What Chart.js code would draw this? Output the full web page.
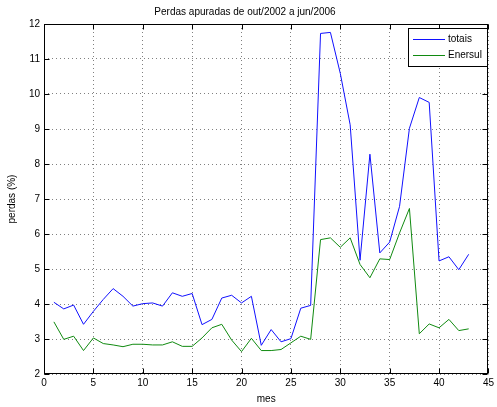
<!DOCTYPE html>
<html>
<head>
<meta charset="utf-8">
<script src="https://cdn.jsdelivr.net/npm/chart.js@4.4.1/dist/chart.umd.min.js"></script>
<style>
  html, body { margin:0; padding:0; background:#fff; }
  canvas { display:block; }
</style>
</head>
<body>
<canvas id="perdasChart" width="497" height="407"></canvas>
<script>
// months since out/2002
const meses = [1,2,3,4,5,6,7,8,9,10,11,12,13,14,15,16,17,18,19,20,21,22,23,24,25,26,27,28,29,30,31,32,33,34,35,36,37,38,39,40,41,42,43];
const totais = [4.05,3.86,3.97,3.42,3.79,4.13,4.44,4.22,3.94,4.01,4.03,3.94,4.32,4.22,4.30,3.41,3.56,4.17,4.25,4.03,4.22,2.82,3.27,2.92,3.01,3.88,3.96,11.73,11.76,10.59,9.12,5.25,8.28,5.46,5.77,6.79,9.02,9.90,9.76,5.23,5.35,4.98,5.42];
const enersul = [3.49,2.99,3.08,2.67,3.03,2.87,2.83,2.78,2.85,2.85,2.83,2.83,2.92,2.79,2.79,3.03,3.32,3.42,2.97,2.64,3.02,2.67,2.67,2.70,2.89,3.08,2.99,5.84,5.89,5.62,5.89,5.13,4.75,5.29,5.27,6.03,6.73,3.15,3.43,3.32,3.56,3.24,3.29];
const seriesNames = ['totais', 'Enersul'];
const xTicks = [0,5,10,15,20,25,30,35,40,45];
const yTicks = [2,3,4,5,6,7,8,9,10,11,12];

const FONT = 'Liberation Sans, Arial, Helvetica, sans-serif';
const COLORS = ['#1010ff', '#108a10'];

// matlab-like box, inward ticks and boxed legend
const axesBox = {
  id: 'axesBox',
  afterDraw(chart){
    const {ctx, chartArea:a, scales:{x, y}} = chart;
    const L = Math.round(a.left)+0.5, R = Math.round(a.right)-0.5;
    const T = Math.round(a.top)+0.5, B = Math.round(a.bottom)-0.5;
    ctx.save();
    ctx.setLineDash([]);
    ctx.strokeStyle = '#000'; ctx.lineWidth = 1;
    ctx.strokeRect(L, T, R-L, B-T);
    ctx.beginPath();
    xTicks.forEach(v=>{
      const px = Math.round(x.getPixelForValue(v))+0.5;
      ctx.moveTo(px, B); ctx.lineTo(px, B-5);
      ctx.moveTo(px, T); ctx.lineTo(px, T+5);
    });
    yTicks.forEach(v=>{
      const py = Math.round(y.getPixelForValue(v))+0.5;
      ctx.moveTo(L, py); ctx.lineTo(L+5, py);
      ctx.moveTo(R, py); ctx.lineTo(R-5, py);
    });
    ctx.stroke();

    // legend
    const bx = 408.5, by = 28.5, bw = 79, bh = 38;
    ctx.fillStyle = '#fff';
    ctx.fillRect(bx, by, bw, bh);
    ctx.strokeStyle = '#000';
    ctx.strokeRect(bx, by, bw, bh);
    ctx.font = '10px ' + FONT;
    ctx.textBaseline = 'middle';
    ctx.textAlign = 'left';
    seriesNames.forEach((name, i)=>{
      const ly = Math.round(by + 10 + i*16) + 0.5;
      ctx.beginPath();
      ctx.strokeStyle = COLORS[i];
      ctx.moveTo(413, ly); ctx.lineTo(445, ly);
      ctx.stroke();
      ctx.fillStyle = '#000';
      ctx.fillText(name, 448, ly);
    });
    ctx.restore();
  }
};

window.addEventListener('DOMContentLoaded', ()=>{
  const ctx = document.getElementById('perdasChart');
  new Chart(ctx, {
    type: 'line',
    data: {
      datasets: [
        { label:seriesNames[0], data: meses.map((m,i)=>({x:m, y:totais[i]})),
          borderColor:COLORS[0], borderWidth:1, pointRadius:0, tension:0, fill:false },
        { label:seriesNames[1], data: meses.map((m,i)=>({x:m, y:enersul[i]})),
          borderColor:COLORS[1], borderWidth:1, pointRadius:0, tension:0, fill:false }
      ]
    },
    options: {
      responsive:false,
      animation:false,
      layout:{ padding:{ left:0, right:7, top:0, bottom:0 } },
      plugins:{
        legend:{ display:false },
        tooltip:{ enabled:false },
        title:{ display:true, text:'Perdas apuradas de out/2002 a jun/2006', color:'#000',
          font:{ family:FONT, size:10, weight:'normal' }, padding:{ top:6, bottom:6 } }
      },
      scales:{
        x:{
          type:'linear', min:0, max:45,
          afterBuildTicks: s=>{ s.ticks = xTicks.map(v=>({value:v})); },
          afterFit: s=>{ s.height = 33; },
          grid:{ drawTicks:false, color:'#808080' },
          border:{ display:false, dash:[1,3] },
          ticks:{ padding:3, color:'#000', maxRotation:0, font:{ family:FONT, size:10 } },
          title:{ display:true, text:'mes', color:'#000', padding:{ top:0, bottom:2 },
            font:{ family:FONT, size:10 } }
        },
        y:{
          type:'linear', min:2, max:12,
          afterBuildTicks: s=>{ s.ticks = yTicks.map(v=>({value:v})); },
          afterFit: s=>{ s.width = 44; },
          grid:{ drawTicks:false, color:'#808080' },
          border:{ display:false, dash:[1,3] },
          ticks:{ padding:4, color:'#000', font:{ family:FONT, size:10 } },
          title:{ display:true, text:'perdas (%)', color:'#000', padding:{ top:6, bottom:0 },
            font:{ family:FONT, size:10 } }
        }
      }
    },
    plugins:[axesBox]
  });
});
</script>
</body>
</html>
